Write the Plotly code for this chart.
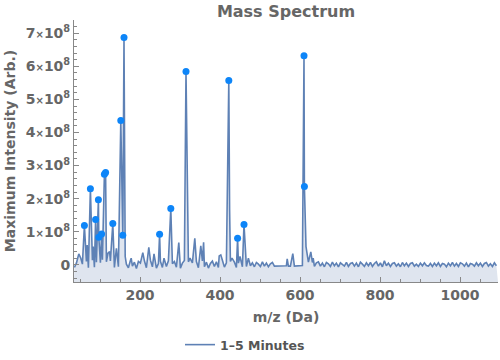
import plotly.graph_objects as go

# ---------------- data (intensities in units of 1e8) ----------------
peak_mz = [61, 76, 89, 96, 97, 104, 111, 114, 132, 152, 157, 160,
           249, 277, 315, 422, 444, 460, 610, 611]
peak_int = [1.19, 2.30, 1.37, 1.97, 0.83, 0.93, 2.74, 2.79, 1.25, 4.36, 0.89, 6.87,
            0.92, 1.70, 5.84, 5.57, 0.80, 1.22, 6.32, 2.37]

minor_mz = [47, 52, 68, 83, 120, 124, 141, 163, 178, 207, 222, 235, 260, 297,
            325, 337, 352, 359, 398, 402, 424, 430, 450, 471, 568, 582, 615, 627, 633]
minor_int = [0.33, 0.20, 0.60, 0.55, 0.35, 0.40, 0.50, 0.25, 0.20, 0.37, 0.53, 0.33, 0.20, 0.67,
             0.20, 0.80, 0.57, 0.68, 0.27, 0.30, 1.68, 0.20, 0.25, 0.20, 0.18, 0.34, 0.55, 0.39, 0.20]

noise_start = 36
noise_step = 5
noise_int = [
    -0.08, 0.05, -0.10, 0.12, 0.02, -0.06, 0.10, -0.09, 0.04, 0.14, -0.07, 0.08, -0.11, 0.06, 0.15, -0.05, 0.09, -0.10, 0.12, 0.03,
    -0.08, 0.11, -0.06, 0.16, -0.10, 0.07, 0.02, -0.09, 0.13, -0.04, 0.08, -0.11, 0.10, 0.05, -0.07, 0.12, -0.09, 0.06, 0.14, -0.06,
    0.09, -0.10, 0.04, 0.11, -0.08, 0.07, -0.05, 0.12, -0.09, 0.03, 0.10, -0.07, 0.08, -0.10, 0.05, 0.13, -0.06, 0.09, -0.08, 0.06,
    -0.07, 0.10, -0.09, 0.05, 0.12, -0.06, 0.08, -0.10, 0.04, 0.11, -0.05, 0.09, -0.08, 0.07, 0.14, -0.07, 0.06, -0.09, 0.10, -0.04,
    0.08, -0.08, 0.05, 0.10, -0.06, 0.04, -0.05, 0.08, -0.03, 0.06, -0.06, 0.07, 0.02, -0.05, 0.09, -0.04, 0.05, -0.06, 0.03, 0.07,
    -0.04, -0.04, -0.03, -0.04, -0.04, -0.04, -0.03, -0.04, -0.04, -0.04, -0.04, -0.04, -0.03, -0.04, -0.02, 0.06, -0.05, 0.08, -0.04, 0.07,
    -0.05, 0.06, 0.09, -0.04, 0.05, -0.06, 0.07, 0.03, -0.05, 0.08, -0.03, 0.05, -0.06, 0.06, 0.02, -0.04, 0.07, -0.05, 0.04, 0.06,
    -0.04, 0.05, -0.06, 0.08, 0.02, -0.05, 0.06, -0.03, 0.07, -0.05, 0.04, 0.09, -0.04, 0.06, -0.06, 0.12, -0.03, 0.05, -0.05, 0.04,
    0.06, -0.04, 0.03, -0.06, 0.07, -0.03, 0.05, -0.05, 0.04, 0.06, -0.04, 0.02, -0.05, 0.05, -0.03, 0.06, -0.02, -0.04, 0.04, -0.05,
    0.05, -0.03, 0.06, -0.05, 0.04, 0.02, -0.06, 0.05, -0.03, 0.07, -0.04, 0.04, -0.05, 0.06, 0.03, -0.04, 0.05, -0.06, 0.04, 0.02,
    -0.04, 0.06, -0.03, 0.05, -0.05, 0.04, 0.07, -0.04, 0.03, -0.05, 0.06, -0.03,
]
scale = 1e8

series_name = "1–5 Minutes"
x_range = [35, 1095]
y_range = [-0.52, 7.40]
x_tick_vals = [200, 400, 600, 800, 1000]
x_tick_labels = ["200", "400", "600", "800", "1000"]
x_minor_vals = [50, 100, 150, 250, 300, 350, 450, 500, 550, 650, 700, 750, 850, 900, 950, 1050]
y_tick_vals = [0, 1, 2, 3, 4, 5, 6, 7]
X = "<span style='font-size:10px'>×</span>"
S = "<sup>8</sup>"
y_tick_labels = ["0", "1" + X + "10" + S, "2" + X + "10" + S, "3" + X + "10" + S,
                 "4" + X + "10" + S, "5" + X + "10" + S, "6" + X + "10" + S,
                 "7" + X + "10" + S]
y_minor_vals = [-0.4, -0.2, 0.2, 0.4, 0.6, 0.8, 1.2, 1.4, 1.6, 1.8, 2.2, 2.4, 2.6, 2.8, 3.2, 3.4, 3.6, 3.8,
                4.2, 4.4, 4.6, 4.8, 5.2, 5.4, 5.6, 5.8, 6.2, 6.4, 6.6, 6.8, 7.2]

# ---------------- build spectrum line ----------------
noise_mz = [noise_start + noise_step * i for i in range(len(noise_int))]
peaks_all = list(zip(peak_mz, peak_int)) + list(zip(minor_mz, minor_int))
pk_x = [p[0] for p in peaks_all]
pts = [(m, v) for m, v in zip(noise_mz, noise_int) if min(abs(m - p) for p in pk_x) > 1.5]
pts += peaks_all
pts.sort()
spec_x = [p[0] for p in pts]
spec_y = [p[1] * scale for p in pts]

LINE = "#5e81b5"
FILL = "#dfe5ef"
DOT = "#0d85f8"
GRAY = "#666666"
AX = "#888888"
FONT = "DejaVu Sans"

fig = go.Figure()
fig.add_trace(go.Scatter(x=x_range, y=[y_range[0] * scale] * 2, mode="lines",
                         line=dict(width=0, color=FILL), showlegend=False, hoverinfo="skip"))
fig.add_trace(go.Scatter(x=spec_x, y=spec_y, mode="lines", fill="tonexty", fillcolor=FILL,
                         line=dict(width=0, color=LINE), showlegend=False, hoverinfo="skip"))
fig.add_trace(go.Scatter(x=spec_x, y=spec_y, mode="lines", name=series_name,
                         line=dict(width=1.6, color=LINE)))
fig.add_trace(go.Scatter(x=peak_mz, y=[v * scale for v in peak_int], mode="markers",
                         marker=dict(size=7, color=DOT), showlegend=False))

fig.update_layout(
    width=500, height=360,
    margin=dict(l=74, r=2, t=20, b=78, autoexpand=False),
    paper_bgcolor="white", plot_bgcolor="white",
    font=dict(family=FONT, color=GRAY),
    title=dict(text="Mass Spectrum", x=0.5, xref="paper", y=1 - 11 / 360, yref="container",
               xanchor="center", yanchor="middle",
               font=dict(family=FONT, size=16, color=GRAY, weight="bold")),
    legend=dict(orientation="h", xref="container", yref="container", x=0.49, y=1 - 345 / 360,
                xanchor="center", yanchor="middle", itemwidth=30,
                font=dict(family=FONT, size=12.5, color="#555555", weight="bold")),
    xaxis=dict(range=x_range, automargin=False, showgrid=False, zeroline=False, showline=True,
               linecolor=AX, linewidth=1, ticks="inside", ticklen=5, tickcolor=AX,
               tickmode="array", tickvals=x_tick_vals, ticktext=x_tick_labels,
               tickfont=dict(family=FONT, size=14, color=GRAY, weight="bold"),
               minor=dict(tickvals=x_minor_vals, ticks="inside", ticklen=3, tickcolor=AX),
               title=dict(text="m/z (Da)", standoff=10,
                          font=dict(family=FONT, size=14, color=GRAY, weight="bold"))),
    yaxis=dict(range=[v * scale for v in y_range], automargin=False, showgrid=False, zeroline=False,
               showline=True, linecolor=AX, linewidth=1, ticks="inside", ticklen=5, tickcolor=AX,
               tickmode="array", tickvals=[v * scale for v in y_tick_vals], ticktext=y_tick_labels,
               tickfont=dict(family=FONT, size=14, color=GRAY, weight="bold"),
               minor=dict(tickvals=[v * scale for v in y_minor_vals], ticks="inside", ticklen=3,
                          tickcolor=AX),
               title=dict(text="Maximum Intensity (Arb.)", standoff=6,
                          font=dict(family=FONT, size=14, color=GRAY, weight="bold"))),
)

fig.write_html("out.html", config={"displayModeBar": False},
               post_script="document.body.style.margin='0';")
